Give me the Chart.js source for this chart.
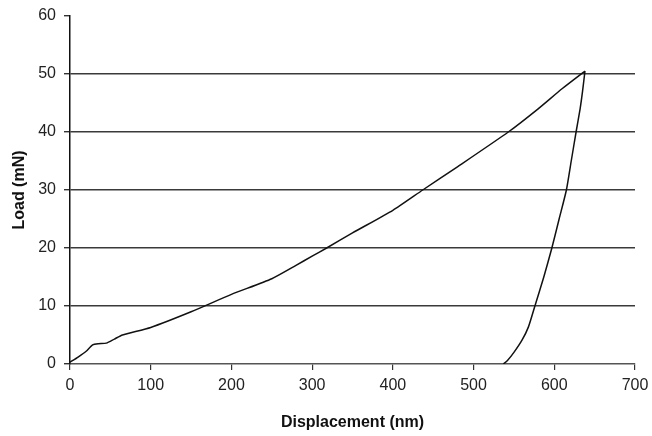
<!DOCTYPE html>
<html>
<head>
<meta charset="utf-8">
<script src="https://cdn.jsdelivr.net/npm/chart.js@4.4.1/dist/chart.umd.min.js"></script>
<style>
  html, body { margin: 0; padding: 0; background: #fff; }
  #wrap { width: 652px; height: 436px; }
</style>
</head>
<body>
<div id="wrap"><canvas id="chart" width="652" height="436"></canvas></div>
<script>
// loading curve (displacement nm, load mN)
const loadX = [0, 10, 20, 28, 35, 45, 55, 65, 100, 150, 200, 250, 280, 300, 318, 350, 400, 437, 480, 543, 580, 610, 638];
const loadY = [0.3, 1.2, 2.2, 3.3, 3.5, 3.6, 4.3, 5.0, 6.3, 9.0, 12.0, 14.7, 17.0, 18.6, 20.0, 22.6, 26.5, 30.0, 34.0, 40.0, 44.0, 47.5, 50.5];

// unloading curve
const unloadX = [638, 635, 632, 627, 621, 615, 606, 597, 587, 576, 568, 560, 550, 542, 537];
const unloadY = [50.5, 47, 44, 40, 35, 30, 25, 20, 15, 10, 6.4, 4.1, 2.0, 0.6, 0];

const xTicks = [0, 100, 200, 300, 400, 500, 600, 700];
const yTicks = [0, 10, 20, 30, 40, 50, 60];

const pts = (xs, ys) => xs.map((x, i) => ({ x: x, y: ys[i] }));

const font = { family: 'Liberation Sans, Arial, sans-serif', size: 16 };

new Chart(document.getElementById('chart').getContext('2d'), {
  type: 'scatter',
  data: {
    datasets: [
      { label: 'Loading', data: pts(loadX, loadY) },
      { label: 'Unloading', data: pts(unloadX, unloadY) },
    ].map((d) => ({
      ...d,
      showLine: true,
      borderColor: '#111',
      borderWidth: 1.5,
      pointRadius: 0,
      tension: 0.2,
    })),
  },
  options: {
    responsive: false,
    animation: false,
    layout: { padding: { top: 16, right: 17, left: 0, bottom: 0 } },
    plugins: { legend: { display: false }, tooltip: { enabled: false } },
    scales: {
      x: {
        type: 'linear',
        min: 0,
        max: 700,
        afterBuildTicks: (s) => { s.ticks = xTicks.map((v) => ({ value: v })); },
        afterFit: (s) => { s.height = 72; s.paddingRight = 0; s.paddingLeft = 0; },
        ticks: { color: '#222', font: font, padding: 6, maxRotation: 0 },
        grid: { drawOnChartArea: false, tickLength: 6, tickColor: '#333', lineWidth: 1.2 },
        border: { color: '#555', width: 1.5 },
        title: {
          display: true,
          text: 'Displacement (nm)',
          color: '#111',
          font: { ...font, weight: 'bold' },
          padding: { top: 4 },
        },
      },
      y: {
        min: 0,
        max: 60,
        afterBuildTicks: (s) => { s.ticks = yTicks.map((v) => ({ value: v })); },
        afterFit: (s) => { s.width = 70; s.paddingTop = 0; s.paddingBottom = 0; },
        ticks: { color: '#222', font: font, padding: 8 },
        grid: {
          color: (c) => (c.tick && (c.tick.value === 60 || c.tick.value === 0) ? 'rgba(0,0,0,0)' : '#3a3a3a'),
          tickColor: '#333',
          tickLength: 6,
          lineWidth: 1.4,
        },
        border: { color: '#111', width: 1.5 },
        title: {
          display: true,
          text: 'Load (mN)',
          color: '#111',
          font: { ...font, weight: 'bold' },
          padding: { top: 10, bottom: 0 },
        },
      },
    },
  },
});
</script>
</body>
</html>
